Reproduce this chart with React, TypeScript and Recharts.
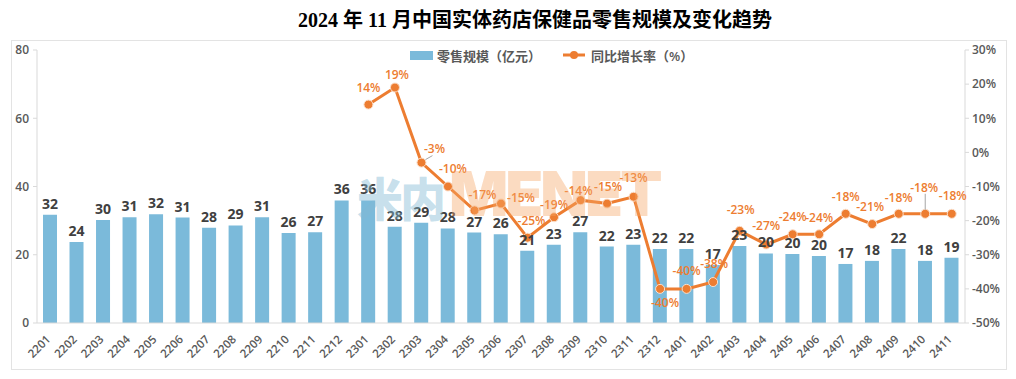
import React from 'react';
import { ComposedChart, Bar, Line, XAxis, YAxis, LabelList } from 'recharts';

const categories = ['2201','2202','2203','2204','2205','2206','2207','2208','2209','2210','2211','2212',
  '2301','2302','2303','2304','2305','2306','2307','2308','2309','2310','2311','2312',
  '2401','2402','2403','2404','2405','2406','2407','2408','2409','2410','2411'];

const retailScale = [31.7, 23.7, 30.2, 31.0, 31.9, 30.9, 27.9, 28.6, 31.0, 26.4, 26.6, 35.9,
  35.9, 28.2, 29.4, 27.7, 26.5, 26.0, 21.2, 22.9, 26.6, 22.4, 22.9, 21.7,
  21.7, 17.0, 22.6, 20.4, 20.2, 19.6, 17.3, 18.2, 21.7, 18.2, 19.1];

const growthRate: (number | null)[] = [null, null, null, null, null, null, null, null, null, null, null, null,
  14, 19, -3, -10, -17, -15, -25, -19, -14, -15, -13, -40,
  -40, -38, -23, -27, -24, -24, -18, -21, -18, -18, -18];

const leftTicks = [0, 20, 40, 60, 80];
const rightTicks = [-50, -40, -30, -20, -10, 0, 10, 20, 30];

const data = categories.map((c, i) => ({ cat: c, retail: retailScale[i], growth: growthRate[i] }));

// label placement tweaks (style only)
const labelStyle: Record<string, { dx: number; dy: number; leader?: boolean }> = {
  '2301': { dx: 0, dy: -13 },
  '2302': { dx: 2, dy: -9 },
  '2303': { dx: 13, dy: -10, leader: true },
  '2304': { dx: 5, dy: -14 },
  '2305': { dx: 8, dy: -11 },
  '2306': { dx: 20, dy: -2 },
  '2307': { dx: 4, dy: -13 },
  '2308': { dx: 0, dy: -8 },
  '2309': { dx: -2, dy: -5 },
  '2310': { dx: 1, dy: -13 },
  '2311': { dx: 0, dy: -15 },
  '2312': { dx: 5, dy: 18 },
  '2401': { dx: 0, dy: -14 },
  '2402': { dx: 1, dy: -14 },
  '2403': { dx: 1, dy: -17 },
  '2404': { dx: 0, dy: -15 },
  '2405': { dx: 0, dy: -13 },
  '2406': { dx: 0, dy: -12 },
  '2407': { dx: 0, dy: -13 },
  '2408': { dx: -2, dy: -13 },
  '2409': { dx: 0, dy: -12 },
  '2410': { dx: -1, dy: -22, leader: true },
  '2411': { dx: 1, dy: -14 },
};

const FONT = "'Open Sans', 'Noto Sans CJK SC', sans-serif";

const XTick = (props: any) => {
  const { x, y, payload } = props;
  return (
    <g transform={`translate(${x + 1},${y + 9})`}>
      <text transform="rotate(-45)" x={0} y={0} textAnchor="end" fill="#595959" fontSize={11.5} fontFamily={FONT} fontWeight={600}>
        {payload.value}
      </text>
    </g>
  );
};

const GrowthLabel = (props: any) => {
  const { x, y, value, index } = props;
  if (value === null || value === undefined) return null;
  const cat = categories[index];
  const s = labelStyle[cat] || { dx: 0, dy: -13 };
  return (
    <g>
      {s.leader ? (
        <line x1={x + (cat === '2303' ? 4 : 0)} y1={y - (cat === '2303' ? 3 : 4)} x2={x + (cat === '2303' ? 11 : 0)} y2={y - (cat === '2303' ? 7 : 20)} stroke="#a6a6a6" strokeWidth={1} />
      ) : null}
      <text x={x + s.dx} y={y + s.dy} textAnchor="middle" fill="#ED7D31" fontSize={12} fontFamily={FONT} fontWeight={600}>
        {`${value}%`}
      </text>
    </g>
  );
};

export default function App() {
  return (
    <div style={{ position: 'absolute', left: 0, top: 0, width: 1016, height: 379, background: '#fff', overflow: 'hidden' }}>
      <div style={{ position: 'absolute', left: 11, top: 40, width: 994, height: 328, border: '1px solid #e3e3e3' }} />
      <div style={{ position: 'absolute', left: 0, top: 8, width: 1070, textAlign: 'center', fontFamily: "'Liberation Serif', 'Noto Sans CJK SC', serif", fontWeight: 700, fontSize: 20, color: '#000', lineHeight: '24px' }}>
        2024 年 11 月中国实体药店保健品零售规模及变化趋势
      </div>
      <div style={{ position: 'absolute', left: 410, top: 46, height: 18, display: 'flex', alignItems: 'center', fontFamily: FONT, fontSize: 13, color: '#595959', fontWeight: 600 }}>
        <span style={{ display: 'inline-block', width: 23, height: 9, background: '#7BBADA', marginRight: 4 }} />
        <span>零售规模（亿元）</span>
        <svg width={22} height={10} style={{ marginLeft: 22, marginRight: 6 }}>
          <line x1={0} y1={5} x2={22} y2={5} stroke="#ED7D31" strokeWidth={3} />
          <circle cx={11} cy={5} r={4} fill="#ED7D31" />
        </svg>
        <span>同比增长率（%）</span>
      </div>
      <ComposedChart width={1016} height={379} data={data} margin={{ top: 50, right: 0, bottom: 0, left: 0 }}>
        <XAxis dataKey="cat" height={56} interval={0} tick={<XTick />} tickLine={false} axisLine={{ stroke: '#d9d9d9' }} />
        <YAxis yAxisId="left" width={37} domain={[0, 80]} ticks={leftTicks} tickSize={4} tickMargin={4}
          axisLine={{ stroke: '#d9d9d9' }} tickLine={{ stroke: '#d9d9d9' }}
          tick={{ fill: '#595959', fontSize: 12, fontFamily: FONT, fontWeight: 600 }} />
        <YAxis yAxisId="right" orientation="right" width={51} domain={[-50, 30]} ticks={rightTicks} tickSize={4} tickMargin={3}
          tickFormatter={(v: number) => `${v}%`}
          axisLine={{ stroke: '#d9d9d9' }} tickLine={{ stroke: '#d9d9d9' }}
          tick={{ fill: '#595959', fontSize: 12, fontFamily: FONT, fontWeight: 600 }} />
        <Bar yAxisId="left" dataKey="retail" fill="#7BBADA" barSize={14} isAnimationActive={false}>
          <LabelList dataKey="retail" position="top" offset={6}
            formatter={(v: number) => Math.round(v)}
            style={{ fill: '#404040', fontSize: 14, fontWeight: 700, fontFamily: FONT }} />
        </Bar>
        <Line yAxisId="right" dataKey="growth" stroke="#ED7D31" strokeWidth={3}
          dot={{ r: 4.5, fill: '#ED7D31', stroke: '#fbe0cc', strokeWidth: 1 }}
          activeDot={false} isAnimationActive={false}>
          <LabelList dataKey="growth" content={<GrowthLabel />} />
        </Line>
      </ComposedChart>
      <div style={{ position: 'absolute', left: 357, top: 156, pointerEvents: 'none', display: 'flex', alignItems: 'baseline', whiteSpace: 'nowrap' }}>
        <span style={{ color: 'rgba(130,185,212,0.45)', fontFamily: "'Noto Sans CJK SC', sans-serif", fontWeight: 900, fontSize: 46, letterSpacing: -3 }}>米内</span>
        <span style={{ color: 'rgba(245,165,100,0.4)', fontFamily: "'Inter', sans-serif", fontWeight: 900, fontSize: 62, letterSpacing: -3, marginLeft: 6 }}>MENET</span>
      </div>
    </div>
  );
}
